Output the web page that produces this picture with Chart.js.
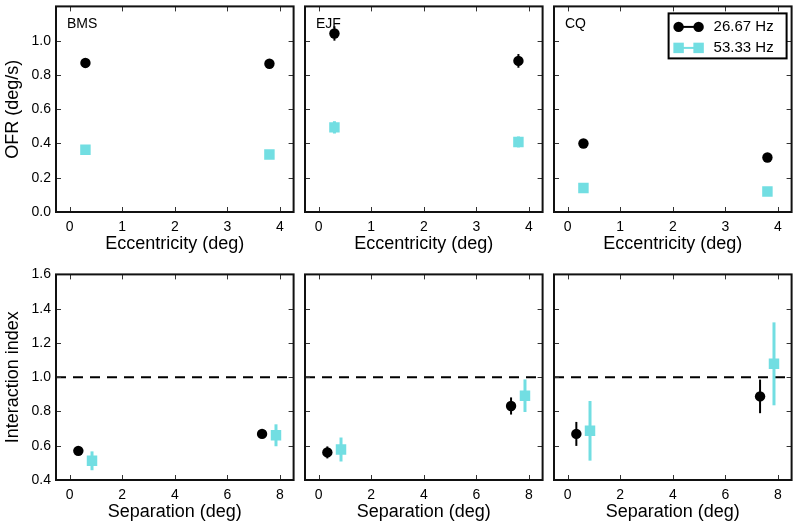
<!DOCTYPE html>
<html>
<head>
<meta charset="utf-8">
<script src="https://cdn.jsdelivr.net/npm/chart.js@4.4.0/dist/chart.umd.min.js"></script>
<style>
  body { margin: 0; background: #fff; }
  #wrap { position: relative; width: 800px; height: 526px; overflow: hidden; }
  canvas { position: absolute; }
</style>
</head>
<body>
<div id="wrap"></div>
<script>
// subjects and stimulus frequencies
const subjects = ['BMS', 'EJF', 'CQ'];
const freqLabels = ['26.67 Hz', '53.33 Hz'];

// top row: OFR vs eccentricity (one row per subject)
const eccentricity = [0.3, 3.8];
const ofr26 = [[0.870, 0.865], [1.042, 0.882], [0.400, 0.318]];
const ofr26Err = [[0.01, 0.01], [0.042, 0.04], [0.01, 0.01]];
const ofr53 = [[0.363, 0.335], [0.494, 0.409], [0.140, 0.120]];
const ofr53Err = [[0.01, 0.01], [0.036, 0.032], [0.01, 0.01]];

// bottom row: interaction index vs separation
const separation26 = [0.33, 7.32];
const separation53 = [0.85, 7.85];
const index26 = [[0.570, 0.669], [0.561, 0.832], [0.669, 0.888]];
const index26Err = [[0.015, 0.025], [0.035, 0.05], [0.07, 0.098]];
const index53 = [[0.512, 0.661], [0.578, 0.892], [0.687, 1.078]];
const index53Err = [[0.055, 0.064], [0.07, 0.095], [0.174, 0.242]];
const refLevel = 1.0;

// tick labels
const eccTicks = [0, 1, 2, 3, 4];
const ofrTicks = [0, 0.2, 0.4, 0.6, 0.8, 1.0];
const sepTicks = [0, 2, 4, 6, 8];
const indexTicks = [0.4, 0.6, 0.8, 1.0, 1.2, 1.4, 1.6];

const black = '#000';
const cyan = 'rgb(114, 222, 226)';
const fontFamily = '"Liberation Sans", Arial, Helvetica, sans-serif';

// layout of the six plot areas
const colLeft = [56, 305, 554];
const rowTop = [5, 273];
const plotW = 239, plotH = 207;
const padL = 56, padT = 6, padR = 6, padB = 46;

const framePlugin = {
  id: 'frame',
  beforeDatasetsDraw(chart, args, opts) {
    const ctx = chart.ctx;
    const a = chart.chartArea;
    const xs = chart.scales.x, ys = chart.scales.y;
    ctx.save();
    if (opts.refLine) {
      const y = ys.getPixelForValue(refLevel);
      ctx.strokeStyle = '#000';
      ctx.lineWidth = 2;
      ctx.setLineDash([10, 7]);
      ctx.beginPath();
      ctx.moveTo(a.left, y);
      ctx.lineTo(a.right, y);
      ctx.stroke();
      ctx.setLineDash([]);
    }
    // error bars
    chart.data.datasets.forEach(ds => {
      ctx.strokeStyle = ds.pointBackgroundColor;
      ctx.lineWidth = ds.errorWidth;
      ds.data.forEach((p, j) => {
        const e = ds.errors[j];
        const x = xs.getPixelForValue(p.x);
        ctx.beginPath();
        ctx.moveTo(x, ys.getPixelForValue(p.y - e));
        ctx.lineTo(x, ys.getPixelForValue(p.y + e));
        ctx.stroke();
      });
    });
    ctx.restore();
  },
  afterDraw(chart, args, opts) {
    const ctx = chart.ctx;
    const a = chart.chartArea;
    const xs = chart.scales.x, ys = chart.scales.y;
    ctx.save();
    // inward tick marks on all four sides
    ctx.strokeStyle = '#333';
    ctx.lineWidth = 1;
    ctx.beginPath();
    xs.ticks.forEach(t => {
      const x = Math.round(xs.getPixelForValue(t.value)) + 0.5;
      ctx.moveTo(x, a.bottom); ctx.lineTo(x, a.bottom - 5);
      ctx.moveTo(x, a.top); ctx.lineTo(x, a.top + 5);
    });
    ys.ticks.forEach(t => {
      const y = Math.round(ys.getPixelForValue(t.value)) + 0.5;
      ctx.moveTo(a.left, y); ctx.lineTo(a.left + 5, y);
      ctx.moveTo(a.right, y); ctx.lineTo(a.right - 5, y);
    });
    ctx.stroke();
    // frame
    ctx.strokeStyle = '#111';
    ctx.lineWidth = 2;
    ctx.strokeRect(a.left, a.top, a.right - a.left, a.bottom - a.top);
    // subject label
    if (opts.label) {
      ctx.fillStyle = '#000';
      ctx.font = '14px ' + fontFamily;
      ctx.textBaseline = 'middle';
      ctx.textAlign = 'left';
      ctx.fillText(opts.label, a.left + 11, a.top + 18);
    }
    // legend
    if (opts.legend) {
      const bx = a.right - 123, by = a.top + 7, bw = 118, bh = 45;
      ctx.fillStyle = '#fff';
      ctx.fillRect(bx, by, bw, bh);
      ctx.strokeStyle = '#000';
      ctx.lineWidth = 2;
      ctx.strokeRect(bx, by, bw, bh);
      chart.data.datasets.forEach((ds, i) => {
        const cy = by + 13.5 + i * 21;
        const x1 = bx + 10, x2 = bx + 30;
        ctx.strokeStyle = ds.pointBackgroundColor;
        ctx.lineWidth = 2;
        ctx.beginPath();
        ctx.moveTo(x1, cy); ctx.lineTo(x2, cy);
        ctx.stroke();
        ctx.fillStyle = ds.pointBackgroundColor;
        [x1, x2].forEach(x => Chart.helpers.drawPoint(ctx, {
          pointStyle: ds.pointStyle, radius: ds.pointRadius, borderWidth: 0, rotation: 0
        }, x, cy));
        ctx.fillStyle = '#000';
        ctx.font = '15px ' + fontFamily;
        ctx.textBaseline = 'middle';
        ctx.textAlign = 'left';
        ctx.fillText(ds.label, bx + 45, cy);
      });
    }
    ctx.restore();
  }
};

function axis(dir, min, max, tickList, title, showLabels, fmt) {
  return {
    type: 'linear',
    min: min,
    max: max,
    afterBuildTicks: s => { s.ticks = tickList.map(v => ({ value: v })); },
    afterFit: s => {
      if (dir === 'x') { s.height = padB; s.paddingLeft = 0; s.paddingRight = 0; }
      else { s.width = padL; s.paddingTop = 0; s.paddingBottom = 0; }
    },
    grid: { display: false, drawTicks: false },
    border: { display: false },
    ticks: {
      display: showLabels,
      padding: dir === 'x' ? 7 : 5,
      color: '#000',
      font: { family: fontFamily, size: 14 },
      callback: fmt
    },
    title: {
      display: !!title,
      text: title,
      color: '#000',
      font: { family: fontFamily, size: 18 },
      padding: dir === 'x' ? { top: 0, bottom: 3 } : { top: 2, bottom: 0 }
    }
  };
}

function series(xv, yv, err, k) {
  return {
    label: freqLabels[k],
    data: xv.map((x, j) => ({ x: x, y: yv[j] })),
    errors: err,
    errorWidth: k === 0 ? 2 : 3,
    pointStyle: k === 0 ? 'circle' : 'rect',
    pointRadius: k === 0 ? 5.2 : 7.4,
    pointHoverRadius: k === 0 ? 5.2 : 7.4,
    pointBackgroundColor: k === 0 ? black : cyan,
    pointBorderColor: k === 0 ? black : cyan,
    pointBorderWidth: 0,
    showLine: false
  };
}

const wrap = document.getElementById('wrap');

function panel(row, col) {
  const cv = document.createElement('canvas');
  const w = padL + plotW + padR, h = padT + plotH + padB;
  cv.width = w; cv.height = h;
  cv.style.left = (colLeft[col] - padL) + 'px';
  cv.style.top = (rowTop[row] - padT) + 'px';
  cv.style.width = w + 'px'; cv.style.height = h + 'px';
  wrap.appendChild(cv);

  const top = row === 0;
  const first = col === 0;
  const datasets = top
    ? [series(eccentricity, ofr26[col], ofr26Err[col], 0),
       series(eccentricity, ofr53[col], ofr53Err[col], 1)]
    : [series(separation26, index26[col], index26Err[col], 0),
       series(separation53, index53[col], index53Err[col], 1)];

  new Chart(cv, {
    type: 'scatter',
    data: { datasets: datasets },
    plugins: [framePlugin],
    options: {
      responsive: false,
      animation: false,
      devicePixelRatio: 1,
      layout: { padding: { top: padT, right: padR, left: 0, bottom: 0 } },
      scales: top ? {
        x: axis('x', -0.26, 4.26, eccTicks, 'Eccentricity (deg)', true, v => v),
        y: axis('y', 0, 1.2, ofrTicks, first ? 'OFR (deg/s)' : '', first, v => v.toFixed(1))
      } : {
        x: axis('x', -0.52, 8.52, sepTicks, 'Separation (deg)', true, v => v),
        y: axis('y', 0.4, 1.6, indexTicks, first ? 'Interaction index' : '', first, v => v.toFixed(1))
      },
      plugins: {
        legend: { display: false },
        tooltip: { enabled: false },
        frame: {
          label: top ? subjects[col] : '',
          legend: top && col === 2,
          refLine: !top
        }
      }
    }
  });
}

for (let r = 0; r < 2; r++) {
  for (let c = 0; c < 3; c++) panel(r, c);
}
</script>
</body>
</html>
